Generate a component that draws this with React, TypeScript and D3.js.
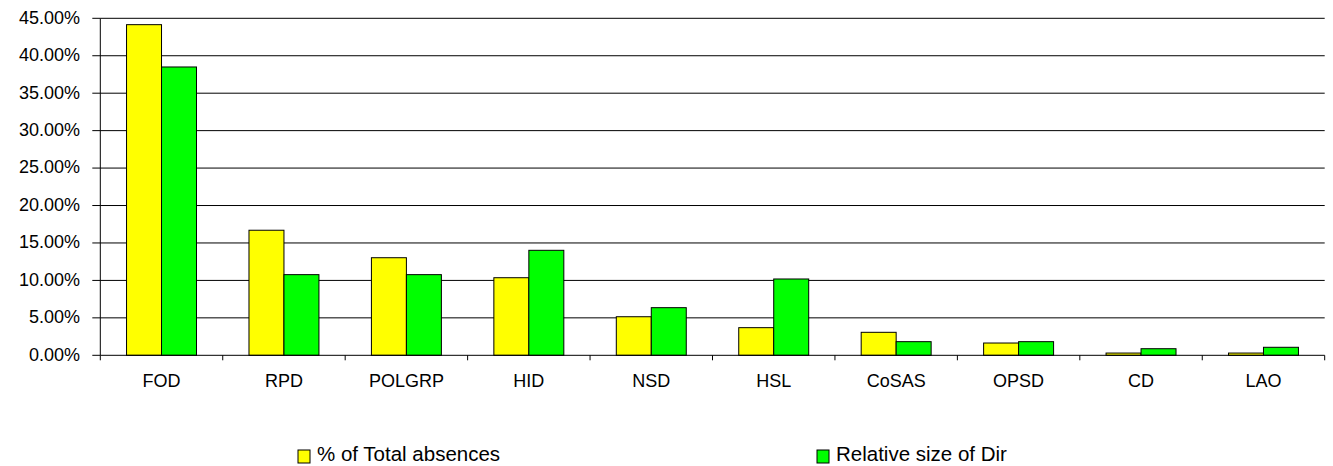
import React from "react";
import * as d3 from "d3";

// Directorates shown along the x axis
const categories = ["FOD", "RPD", "POLGRP", "HID", "NSD", "HSL", "CoSAS", "OPSD", "CD", "LAO"];

// Share of total absences per directorate (%)
const totalAbsences = [44.15, 16.7, 13.03, 10.36, 5.15, 3.69, 3.07, 1.64, 0.3, 0.3];

// Relative size of each directorate (%)
const relativeSize = [38.5, 10.77, 10.77, 14.02, 6.36, 10.19, 1.82, 1.82, 0.88, 1.07];

const yTicks = [0, 5, 10, 15, 20, 25, 30, 35, 40, 45];

const seriesNames = ["% of Total absences", "Relative size of Dir"];
const seriesColors = ["#FFFF00", "#00FF00"];

const W = 1333;
const H = 466;
const left = 100.3;
const right = 1324.7;
const top = 18.3;
const bottom = 355.3;
const font = "Arial, 'Liberation Sans', sans-serif";

export default function App() {
  const x = d3.scaleBand<string>().domain(categories).range([left, right]).paddingInner(0).paddingOuter(0);
  const y = d3.scaleLinear().domain([0, 45]).range([bottom, top]);
  const bw = x.bandwidth() / 3.5;
  const groupOffset = bw * 0.75;
  const series = [totalAbsences, relativeSize];
  const fmt = (v: number) => v.toFixed(2) + "%";
  const boundaries = d3.range(categories.length + 1).map((i) => left + i * x.step());

  return (
    <svg
      width={W}
      height={H}
      style={{ position: "absolute", left: 0, top: 0, background: "#fff" }}
      fontFamily={font}
    >
      <rect x={0} y={0} width={W} height={H} fill="#fff" />
      {/* horizontal gridlines */}
      {yTicks.slice(1).map((t) => (
        <line key={t} x1={left} x2={right} y1={y(t)} y2={y(t)} stroke="#000" strokeWidth={1} />
      ))}
      {/* bars */}
      {series.map((vals, si) =>
        vals.map((v, i) => (
          <rect
            key={si + "-" + i}
            x={(x(categories[i]) as number) + groupOffset + si * bw}
            y={y(v)}
            width={bw}
            height={y(0) - y(v)}
            fill={seriesColors[si]}
            stroke="#000"
            strokeWidth={1}
          />
        ))
      )}
      {/* y axis */}
      <line x1={left} x2={left} y1={top} y2={bottom} stroke="#000" />
      {yTicks.map((t) => (
        <g key={t}>
          <line x1={left - 8} x2={left} y1={y(t)} y2={y(t)} stroke="#000" />
          <text
            x={80}
            y={y(t)}
            dy="0.3em"
            textAnchor="end"
            fontSize={18}
            fill="#000"
          >
            {fmt(t)}
          </text>
        </g>
      ))}
      {/* x axis */}
      <line x1={left} x2={right} y1={bottom} y2={bottom} stroke="#000" />
      {boundaries.map((bx, i) => (
        <line key={i} x1={bx} x2={bx} y1={bottom} y2={bottom + 5} stroke="#000" />
      ))}
      {categories.map((c) => (
        <text
          key={c}
          x={(x(c) as number) + x.bandwidth() / 2}
          y={386.5}
          textAnchor="middle"
          fontSize={18}
          fill="#000"
        >
          {c}
        </text>
      ))}
      {/* legend */}
      {seriesNames.map((name, i) => {
        const lx = [298, 817][i];
        return (
          <g key={name}>
            <rect x={lx} y={450} width={12} height={13} fill={seriesColors[i]} stroke="#000" strokeWidth={1} />
            <text x={lx + 19} y={461} fontSize={20.5} fill="#000">
              {name}
            </text>
          </g>
        );
      })}
    </svg>
  );
}
